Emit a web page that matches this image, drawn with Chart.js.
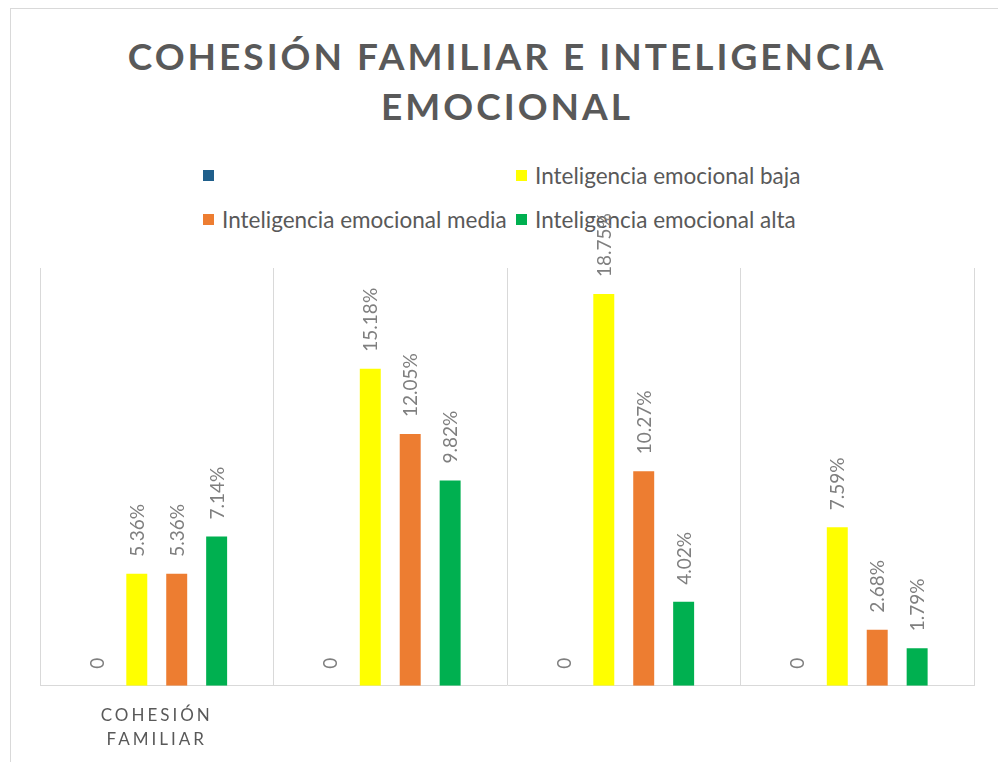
<!DOCTYPE html>
<html>
<head>
<meta charset="utf-8">
<script src="https://cdn.jsdelivr.net/npm/chart.js@4.4.1/dist/chart.umd.min.js"></script>
<style>
  html, body { margin: 0; padding: 0; background: #fff; }
  body { width: 998px; height: 762px; position: relative; overflow: hidden; font-family: Lato, "Open Sans", sans-serif; }
  #frame { position: absolute; left: 10px; top: 8px; width: 1000px; height: 800px; border-left: 1px solid #d9d9d9; border-top: 1px solid #d9d9d9; }
  #title { position: absolute; left: 0; top: 31px; width: 1014px; text-align: center; color: #595959;
           font-weight: bold; font-size: 37px; line-height: 50px; letter-spacing: 3px; }
  #legend { position: absolute; left: 203px; top: 161px; display: grid; grid-template-columns: 313px 320px; row-gap: 16px; }
  .item { display: flex; align-items: center; height: 28px; font-size: 22.5px; color: #595959; white-space: nowrap; }
  .box { width: 11px; height: 11px; margin-right: 8px; flex: none; }
  #wrap { position: absolute; left: 0; top: 0; width: 998px; height: 780px; }
</style>
</head>
<body>
<div id="frame"></div>
<div id="title">COHESIÓN FAMILIAR E INTELIGENCIA<br>EMOCIONAL</div>
<div id="legend"></div>
<div id="wrap"><canvas id="chart"></canvas></div>
<script>
// Categories (only the first one has a label in the original)
const categories = [['COHESIÓN', 'FAMILIAR'], '', '', ''];

// Series names and values (percent)
const seriesNames = ['', 'Inteligencia emocional baja', 'Inteligencia emocional media', 'Inteligencia emocional alta'];
const serieBlank = [0, 0, 0, 0];
const serieBaja = [5.36, 15.18, 18.75, 7.59];
const serieMedia = [5.36, 12.05, 10.27, 2.68];
const serieAlta = [7.14, 9.82, 4.02, 1.79];
const seriesColors = ['#1f5f8b', '#ffff00', '#ed7d31', '#00b050'];

const allSeries = [serieBlank, serieBaja, serieMedia, serieAlta];

// Build the HTML legend (2 columns like the original)
const legendEl = document.getElementById('legend');
seriesNames.forEach((name, i) => {
    const item = document.createElement('div');
    item.className = 'item';
    item.innerHTML = `<span class="box" style="background:${seriesColors[i]}"></span><span>${name}</span>`;
    legendEl.appendChild(item);
});

// Rotated value labels above each bar (not clipped, like the original)
const valueLabels = {
    id: 'valueLabels',
    afterDatasetsDraw(chart) {
        const ctx = chart.ctx;
        ctx.save();
        ctx.letterSpacing = '0px';
        ctx.font = '19px Lato, "Open Sans", sans-serif';
        ctx.fillStyle = '#7f7f7f';
        ctx.textAlign = 'left';
        ctx.textBaseline = 'middle';
        chart.data.datasets.forEach((ds, di) => {
            const meta = chart.getDatasetMeta(di);
            meta.data.forEach((bar, i) => {
                const v = ds.data[i];
                const text = v === 0 ? '0' : v.toFixed(2) + '%';
                ctx.save();
                ctx.translate(bar.x + 1, bar.y - 17);
                ctx.rotate(-Math.PI / 2);
                ctx.fillText(text, 0, 0);
                ctx.restore();
            });
        });
        ctx.restore();
    }
};

// Letter spacing for the category axis labels
const axisSpacing = {
    id: 'axisSpacing',
    beforeDraw(chart) { chart.ctx.letterSpacing = '3px'; },
    beforeDatasetsDraw(chart) { chart.ctx.letterSpacing = '0px'; }
};

new Chart(document.getElementById('chart'), {
    type: 'bar',
    data: {
        labels: categories,
        datasets: allSeries.map((vals, i) => ({
            label: seriesNames[i],
            data: vals,
            backgroundColor: seriesColors[i],
            borderWidth: 0,
            barPercentage: 0.525,
            categoryPercentage: 0.684
        }))
    },
    options: {
        responsive: true,
        maintainAspectRatio: false,
        animation: false,
        layout: { padding: { left: 40, right: 24, top: 268, bottom: 10 } },
        plugins: {
            legend: { display: false },
            title: { display: false },
            tooltip: { enabled: false }
        },
        scales: {
            x: {
                grid: { offset: true, color: '#d9d9d9', drawTicks: false, lineWidth: 1 },
                border: { color: '#d9d9d9', width: 1 },
                ticks: {
                    color: '#595959',
                    font: { family: 'Lato, "Open Sans", sans-serif', size: 17, lineHeight: 1.42 },
                    padding: 18,
                    maxRotation: 0
                }
            },
            y: {
                display: false,
                min: 0,
                max: 20
            }
        }
    },
    plugins: [valueLabels, axisSpacing]
});
</script>
</body>
</html>
